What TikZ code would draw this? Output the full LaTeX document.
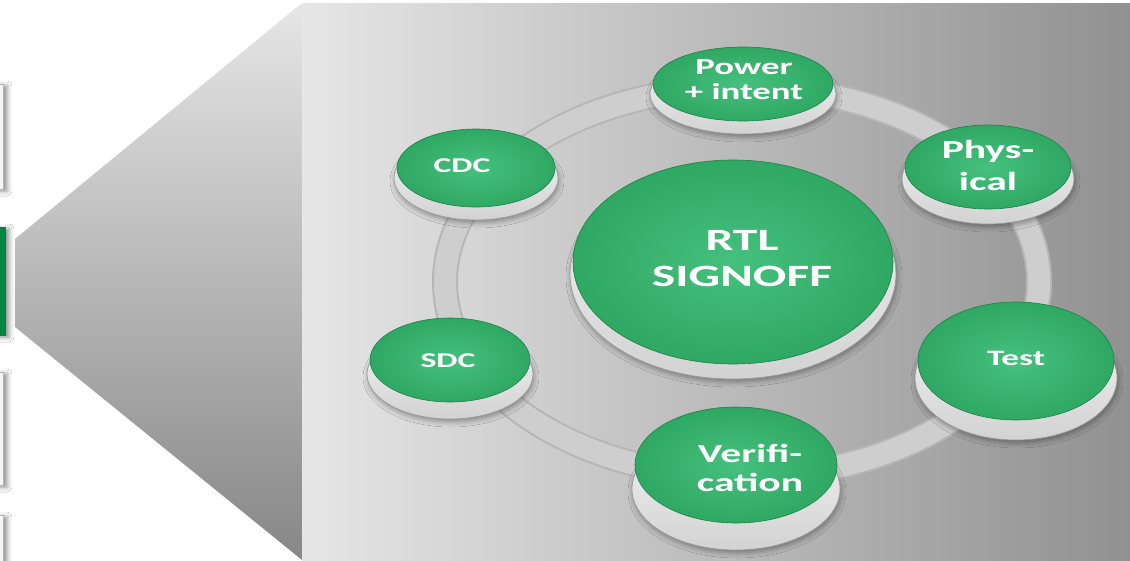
\documentclass[tikz,border=0pt]{standalone}
\usepackage{fontspec}
\setmainfont{Carlito}
\usetikzlibrary{shapes.geometric,shadows.blur}
\definecolor{gin}{RGB}{70,192,126}
\definecolor{gout}{RGB}{46,168,98}
\definecolor{gline}{RGB}{30,128,74}
\definecolor{boxgreen}{RGB}{0,133,66}
\definecolor{panelL}{RGB}{230,230,230}
\definecolor{panelR}{RGB}{145,145,145}
\definecolor{funT}{RGB}{230,230,230}
\definecolor{funB}{RGB}{135,135,135}
\definecolor{bandedge}{RGB}{182,182,182}
\definecolor{bandfill}{RGB}{206,206,206}
\newcommand\lbl[3]{\scalebox{1.6}[1]{\fontsize{#1}{#2}\selectfont\begin{tabular}{@{}c@{}}#3\end{tabular}}}
\tikzset{
  x=1pt, y=-1pt,
  btntop/.style={ellipse, inner sep=0pt, outer sep=0pt, draw=gline, line width=0.6pt,
    inner color=gin, outer color=gout},
  btntext/.style={text=white, font=\bfseries, inner sep=0pt},
  rim/.style={draw=gray!80, line width=0.7pt, top color=gray!8, bottom color=gray!35},
  sidebox/.style={draw=gray!60, line width=0.6pt, fill=gray!8,
    blur shadow={shadow xshift=4pt, shadow yshift=-2pt, shadow blur radius=5pt, shadow opacity=45}},
}
\newcommand\mybtn[6]{%
  \path[rim, blur shadow={shadow xshift=1pt, shadow yshift=-3pt, shadow blur radius=5pt, shadow opacity=35}]
    (#2,#3+#6) ellipse [x radius=#4+3, y radius=#5+3];
  \node[btntop, minimum width=2*#4pt, minimum height=2*#5pt] (#1) at (#2,#3) {};
}
\begin{document}
\begin{tikzpicture}
\useasboundingbox (0,0) rectangle (1130,560);
\clip (0,0) rectangle (1130,560);
\fill[white] (0,0) rectangle (1130,560);
% left side boxes
\path[sidebox] (-10,84) rectangle (3,189);
\path[sidebox, fill=boxgreen, draw=boxgreen] (-10,227) rectangle (5,335);
\path[sidebox] (-10,372) rectangle (3,485);
\path[sidebox] (-10,515) rectangle (3,580);
% funnel and panel
\shade[top color=funT, bottom color=funB] (15,239) -- (302,3) -- (302,560) -- (15,327) -- cycle;
\shade[left color=panelL, right color=panelR] (302,3) rectangle (1130,560);
% ring band
\draw[line width=26pt, bandedge] (742,282) ellipse [x radius=297, y radius=195];
\draw[line width=22pt, bandfill] (742,282) ellipse [x radius=297, y radius=195];
% buttons
\mybtn{power}{743}{84}{90}{37}{10}
\mybtn{cdc}{476}{168}{79}{39}{10}
\mybtn{phys}{988}{167}{83}{42}{12}
\mybtn{rtl}{733}{262}{160}{102}{12}
\mybtn{sdc}{450}{360}{80}{42}{14}
\mybtn{test}{1016}{361}{98}{59}{17}
\mybtn{verif}{736}{465}{101}{58}{24}
% labels
\node[btntext] (power-t) at (744,82) {\lbl{23}{25}{Power\\+ intent}};
\node[btntext] (phys-t) at (988,168) {\lbl{26}{32}{Phys-\\ical}};
\node[btntext] (cdc-t) at (462,167) {\lbl{21}{25}{CDC}};
\node[btntext] (rtl-t) at (742,261) {\lbl{31}{36}{RTL\\SIGNOFF}};
\node[btntext] (sdc-t) at (448,362) {\lbl{21}{25}{SDC}};
\node[btntext] (test-t) at (1016,360) {\lbl{22}{25}{Test}};
\node[btntext] (verif-t) at (750,471) {\lbl{26}{29}{Verifi-\\cation}};
\end{tikzpicture}
\end{document}
